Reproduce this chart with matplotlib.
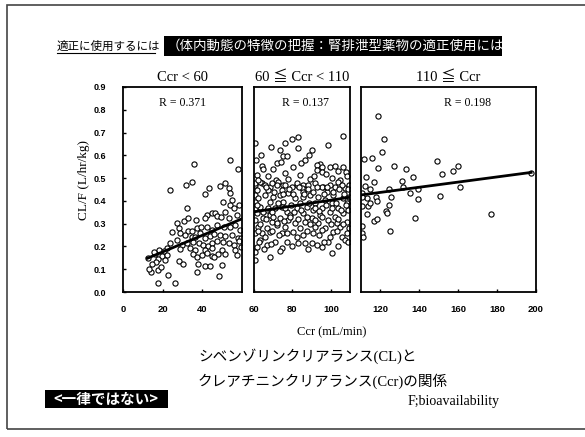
import matplotlib
matplotlib.use('Agg')
import matplotlib.pyplot as plt
from matplotlib.patches import Rectangle
from matplotlib.lines import Line2D

# CL/F vs Ccr, split in three renal-function groups
low_x = [36.0, 53.7, 58.2, 23.9, 31.6, 35.0, 41.1, 43.4, 48.7, 51.2, 53.2, 54.0, 54.9, 50.3, 32.2,
         54.0, 42.3, 44.8, 46.5, 51.5, 56.2, 58.6, 27.1, 31.0, 32.7, 36.9, 41.4, 47.3, 49.5, 53.2,
         57.4, 28.0, 32.7, 35.0, 37.2, 39.4, 42.4, 45.0, 47.3, 50.7, 54.0, 56.6, 59.1, 24.6, 28.8,
         31.3, 34.7, 36.4, 38.9, 41.4, 44.0, 46.1, 49.0, 51.5, 54.9, 57.9, 59.3, 22.1, 23.7, 27.1,
         29.6, 32.2, 35.5, 38.1, 40.1, 42.8, 45.1, 47.3, 50.2, 53.2, 56.1, 58.6, 59.3, 18.3, 20.9,
         28.8, 33.8, 36.4, 41.4, 44.8, 49.8, 56.6, 16.2, 19.9, 22.1, 17.8, 21.2, 28.0, 30.5, 35.5,
         37.2, 39.7, 42.3, 45.1, 48.1, 51.5, 57.4, 16.5, 14.5, 14.1, 17.5, 22.9, 37.7, 41.4, 46.0,
         49.8, 37.2, 17.5, 26.3, 48.5, 43.9, 13.0, 12.5, 15.5, 19.0]
low_y = [0.564, 0.579, 0.540, 0.447, 0.469, 0.481, 0.430, 0.455, 0.466, 0.477, 0.455, 0.436, 0.406,
         0.396, 0.367, 0.381, 0.340, 0.345, 0.345, 0.352, 0.367, 0.381, 0.304, 0.313, 0.327, 0.316,
         0.323, 0.333, 0.330, 0.323, 0.338, 0.283, 0.267, 0.267, 0.279, 0.286, 0.286, 0.272, 0.294,
         0.286, 0.286, 0.294, 0.272, 0.264, 0.257, 0.250, 0.242, 0.242, 0.257, 0.235, 0.245, 0.254,
         0.250, 0.245, 0.250, 0.239, 0.239, 0.195, 0.213, 0.228, 0.206, 0.213, 0.220, 0.213, 0.206,
         0.201, 0.216, 0.225, 0.220, 0.213, 0.206, 0.225, 0.198, 0.184, 0.181, 0.187, 0.191, 0.184,
         0.184, 0.191, 0.184, 0.184, 0.169, 0.157, 0.162, 0.147, 0.140, 0.137, 0.125, 0.169, 0.155,
         0.162, 0.172, 0.157, 0.166, 0.169, 0.162, 0.132, 0.125, 0.089, 0.096, 0.074, 0.125, 0.113,
         0.152, 0.118, 0.089, 0.040, 0.040, 0.070, 0.113, 0.100, 0.150, 0.175, 0.110]

mid_x = [60.5, 106.2, 82.7, 79.6, 76.1, 68.7, 73.5, 83.1, 90.0, 98.7, 75.3, 77.0, 88.8, 71.8, 74.1,
         84.3, 94.4, 92.6, 95.2, 80.5, 64.0, 64.5, 99.6, 102.2, 106.2, 107.9, 92.6, 95.2, 76.1, 84.0,
         61.4, 67.5, 71.5, 77.9, 89.2, 100.5, 104.8, 108.3, 64.0, 60.5, 75.3, 82.2, 85.7, 96.1, 102.2,
         68.3,
         60.5, 63.1, 65.7, 69.2, 72.7, 76.1, 79.6, 82.2, 84.8, 88.3, 91.8, 95.2, 99.6, 103.9, 107.4,
         109.5, 61.4, 67.5, 74.4, 85.7, 97.8, 105.7,
         60.5, 62.3, 65.7, 70.1, 73.5, 77.9, 81.4, 85.7, 89.2, 93.5, 97.0, 101.3, 106.5, 109.5, 60.5,
         68.3, 75.3, 84.0, 91.8, 100.5, 108.3,
         60.5, 63.1, 66.6, 71.0, 74.4, 77.0, 82.2, 87.4, 90.9, 95.2, 99.6, 103.9, 109.1, 61.4, 68.3,
         78.7, 85.7, 94.4, 102.2, 106.5,
         60.5, 64.9, 69.2, 73.5, 77.9, 81.4, 86.6, 90.0, 93.5, 98.7, 103.1, 108.3, 62.3, 66.6, 71.8,
         76.1, 84.0, 91.8, 97.0, 104.8, 109.5,
         60.5, 64.0, 68.3, 74.4, 80.5, 85.7, 90.9, 95.2, 101.3, 105.7, 63.1, 71.0, 77.0, 83.1, 86.6,
         90.0, 92.6, 95.2, 98.7, 107.4, 61.4, 66.6, 74.4, 73.5, 109.1,
         60.5, 68.3, 60.5, 100.5,
         62.0, 66.0, 70.5, 72.0, 75.0, 78.0, 80.5, 83.5, 86.0, 88.0, 90.5, 93.0, 96.5, 98.0, 101.0,
         104.5, 107.0, 109.0,
         61.5, 64.5, 67.5, 69.5, 72.5, 76.0, 79.5, 81.0, 84.5, 88.5, 92.0, 94.0, 97.5, 100.5, 102.5,
         105.5, 108.0,
         63.0, 66.0, 70.0, 72.0, 75.5, 79.0, 83.0, 87.5, 89.0, 92.0, 95.5, 100.0, 104.0, 106.5,
         62.0, 65.5, 69.5, 73.0, 77.0, 82.5, 87.5, 94.0, 99.5, 103.0, 108.5,
         62.5, 65.0, 69.0, 80.0, 88.0, 96.5, 104.0,
         61.0, 63.5, 70.0, 86.5, 91.0, 97.5, 104.0]
mid_y = [0.653, 0.685, 0.682, 0.672, 0.656, 0.638, 0.623, 0.631, 0.623, 0.645, 0.597, 0.597, 0.601,
         0.568, 0.572, 0.568, 0.562, 0.558, 0.547, 0.550, 0.553, 0.539, 0.550, 0.553, 0.550, 0.528,
         0.536, 0.528, 0.524, 0.514, 0.514, 0.509, 0.492, 0.495, 0.495, 0.499, 0.492, 0.509, 0.477,
         0.470, 0.470, 0.470, 0.470, 0.462, 0.462, 0.462,
         0.477, 0.485, 0.470, 0.477, 0.485, 0.470, 0.463, 0.477, 0.455, 0.470, 0.477, 0.463, 0.470,
         0.485, 0.455, 0.470, 0.448, 0.448, 0.448, 0.441, 0.441, 0.470,
         0.426, 0.411, 0.426, 0.419, 0.426, 0.433, 0.411, 0.419, 0.426, 0.419, 0.404, 0.426, 0.411,
         0.419, 0.397, 0.397, 0.397, 0.390, 0.390, 0.390, 0.390,
         0.368, 0.375, 0.360, 0.368, 0.375, 0.353, 0.368, 0.375, 0.360, 0.368, 0.353, 0.368, 0.360,
         0.346, 0.338, 0.338, 0.346, 0.338, 0.331, 0.346,
         0.316, 0.324, 0.309, 0.324, 0.316, 0.302, 0.309, 0.324, 0.302, 0.316, 0.302, 0.309, 0.287,
         0.280, 0.294, 0.287, 0.280, 0.287, 0.280, 0.287, 0.280,
         0.258, 0.258, 0.265, 0.258, 0.265, 0.250, 0.258, 0.272, 0.265, 0.243, 0.228, 0.221, 0.221,
         0.217, 0.214, 0.214, 0.206, 0.199, 0.221, 0.228, 0.199, 0.206, 0.192, 0.182, 0.221,
         0.177, 0.152, 0.141, 0.173,
         0.490, 0.460, 0.440, 0.470, 0.430, 0.450, 0.430, 0.460, 0.430, 0.450, 0.440, 0.460, 0.430,
         0.460, 0.440, 0.450, 0.430, 0.450,
         0.380, 0.350, 0.370, 0.350, 0.390, 0.370, 0.380, 0.350, 0.360, 0.390, 0.370, 0.355, 0.380,
         0.370, 0.390, 0.360, 0.380,
         0.300, 0.320, 0.330, 0.305, 0.310, 0.330, 0.320, 0.330, 0.300, 0.315, 0.330, 0.300, 0.320,
         0.300,
         0.270, 0.240, 0.270, 0.250, 0.260, 0.240, 0.270, 0.250, 0.240, 0.270, 0.260,
         0.220, 0.190, 0.210, 0.200, 0.190, 0.220, 0.200,
         0.580, 0.600, 0.540, 0.580, 0.510, 0.520, 0.530]

high_x = [118.6, 122.0, 120.6, 111.7, 115.5, 118.6, 127.2, 133.0, 137.0, 149.0, 151.6, 157.2, 159.7,
          161.0, 112.6, 116.9, 112.1, 114.6, 110.7, 131.0, 131.8, 124.6, 117.7, 112.9, 110.3, 113.4,
          114.8, 118.1, 125.5, 124.6, 122.7, 123.2, 113.1, 116.9, 118.2, 135.3, 139.5, 139.5, 137.8,
          150.7, 124.9, 110.6, 110.7, 110.9, 177.0, 197.5, 110.5]
high_y = [0.773, 0.670, 0.616, 0.584, 0.590, 0.546, 0.553, 0.538, 0.506, 0.577, 0.518, 0.533, 0.555,
          0.459, 0.503, 0.481, 0.465, 0.451, 0.433, 0.487, 0.459, 0.451, 0.418, 0.411, 0.377, 0.377,
          0.392, 0.401, 0.415, 0.382, 0.357, 0.348, 0.342, 0.313, 0.319, 0.436, 0.451, 0.407, 0.323,
          0.423, 0.269, 0.290, 0.257, 0.243, 0.341, 0.524, 0.418]

# regression line ends for each group
low_line_x, low_line_y = [12.3, 59.6], [0.148, 0.320]
mid_line_x, mid_line_y = [60.0, 110.0], [0.352, 0.416]
high_line_x, high_line_y = [110.0, 197.5], [0.426, 0.525]

group_titles = ['Ccr < 60', '60 ≦ Ccr < 110', '110 ≦ Ccr']
r_labels = ['R = 0.371', 'R = 0.137', 'R = 0.198']
x_ranges = [(0, 60), (60, 110), (110, 200)]
x_ticks = [[0, 20, 40], [60, 80, 100], [120, 140, 160, 180, 200]]
y_ticks = [0.0, 0.1, 0.2, 0.3, 0.4, 0.5, 0.6, 0.7, 0.8, 0.9]

W, H = 585, 437
serif = ['Liberation Serif', 'DejaVu Serif', 'Noto Sans CJK JP']
jp = ['Noto Sans CJK JP', 'DejaVu Sans']
mixed = ['Liberation Serif', 'Noto Sans CJK JP']

fig = plt.figure(figsize=(W / 100, H / 100), dpi=100)
fig.patch.set_facecolor('white')


def fx(px):
    return px / W


def fy(py):
    return 1 - py / H


# axes boxes in pixels: left, right
boxes = [(123, 242), (254, 350), (361, 536)]
top, bottom = 87, 292
r_pos = [0.5, 0.54, 0.61]

groups = [(low_x, low_y, low_line_x, low_line_y),
          (mid_x, mid_y, mid_line_x, mid_line_y),
          (high_x, high_y, high_line_x, high_line_y)]

for i, ((l, r), (gx, gy, lx, ly)) in enumerate(zip(boxes, groups)):
    ax = fig.add_axes([fx(l), fy(bottom), (r - l) / W, (bottom - top) / H])
    ax.scatter(gx, gy, s=14, facecolors='white', edgecolors='black', linewidths=0.8, zorder=2)
    ax.plot(lx, ly, color='black', lw=2.0, zorder=3)
    ax.set_xlim(*x_ranges[i])
    ax.set_ylim(0, 0.9)
    ax.set_xticks(x_ticks[i])
    ax.tick_params(axis='x', direction='in', length=2.5, width=1, pad=9, labelsize=6.8)
    for lab in ax.get_xticklabels():
        lab.set_fontweight('bold')
        lab.set_family('Liberation Sans')
    if i == 0:
        ax.set_yticks(y_ticks)
        ax.set_yticklabels(['%.1f' % v for v in y_ticks])
        ax.tick_params(axis='y', direction='in', length=2.5, width=1, pad=12, labelsize=6.5)
        for lab in ax.get_yticklabels():
            lab.set_fontweight('bold')
            lab.set_family('Liberation Sans')
    else:
        ax.set_yticks([])
    for s in ax.spines.values():
        s.set_linewidth(1.3)
    ax.set_title(group_titles[i], fontsize=10.5, family=serif, pad=4)
    ax.text(r_pos[i], 0.92, r_labels[i], transform=ax.transAxes,
            ha='center', va='center', fontsize=8.5, family=serif)

fig.text(fx(84), fy(180), 'CL/F (L/hr/kg)', rotation=90, ha='center', va='center',
         fontsize=9.5, family=serif)
fig.text(fx(332), fy(332), 'Ccr (mL/min)', ha='center', va='center', fontsize=9, family=serif)

# heading line
fig.text(fx(57), fy(46), '適正に使用するには', ha='left', va='center', fontsize=8.3, family=jp)
fig.add_artist(Line2D([fx(57), fx(155)], [fy(53), fy(53)], color='black', lw=0.8))
fig.add_artist(Rectangle((fx(164), fy(56)), fx(502) - fx(164), (56 - 36) / H,
                         facecolor='black', edgecolor='none', transform=fig.transFigure))
fig.text(fx(167), fy(46), '（体内動態の特徴の把握：腎排泄型薬物の適正使用には', ha='left', va='center',
         fontsize=9.7, color='white', family=jp)

# caption
fig.text(fx(198), fy(356), 'シベンゾリンクリアランス(CL)と', ha='left', va='center',
         fontsize=10.5, family=mixed)
fig.text(fx(198), fy(381), 'クレアチニンクリアランス(Ccr)の関係', ha='left', va='center',
         fontsize=10.5, family=mixed)
fig.add_artist(Rectangle((fx(45), fy(408)), fx(168) - fx(45), (408 - 390) / H,
                         facecolor='black', edgecolor='none', transform=fig.transFigure))
fig.text(fx(106), fy(399), '<一律ではない>', ha='center', va='center', fontsize=10.5,
         fontweight='bold', color='white', family=jp)
fig.text(fx(408), fy(401), 'F;bioavailability', ha='left', va='center', fontsize=10, family=serif)

# page frame
fig.add_artist(Rectangle((fx(7), fy(429)), fx(595) - fx(7), (429 - 5) / H, facecolor='none',
                         edgecolor='#444444', lw=1.2, transform=fig.transFigure))

fig.savefig('out.png', dpi=100)
